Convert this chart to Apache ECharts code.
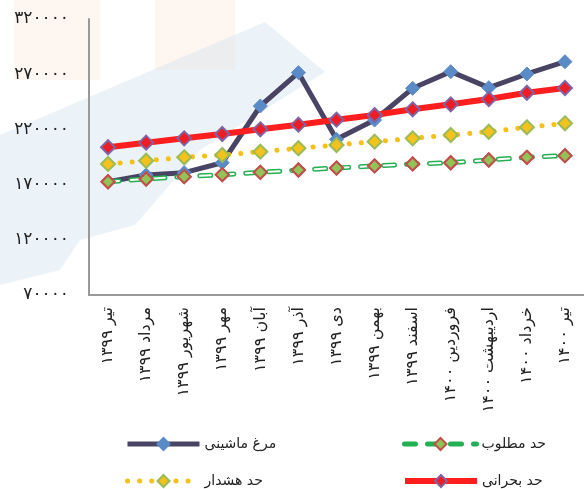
<!DOCTYPE html>
<html>
<head>
<meta charset="utf-8">
<script src="https://cdn.jsdelivr.net/npm/echarts@6/dist/echarts.min.js"></script>
<style>
	html, body { margin: 0; padding: 0; background: #fff; }
	#chart_1 { width: 584px; height: 489px; }
</style>
</head>
<body>
<div id="chart_1"></div>
<script>
var months = ['تیر ۱۳۹۹', 'مرداد ۱۳۹۹', 'شهریور ۱۳۹۹', 'مهر ۱۳۹۹', 'آبان ۱۳۹۹', 'آذر ۱۳۹۹', 'دی ۱۳۹۹',
	'بهمن ۱۳۹۹', 'اسفند ۱۳۹۹', 'فروردین ۱۴۰۰', 'اردیبهشت ۱۴۰۰', 'خرداد ۱۴۰۰', 'تیر ۱۴۰۰'];
// مرغ ماشینی
var chickenPrice = [172600, 178700, 180800, 189800, 241200, 271400, 211000, 228500, 257200, 272300, 257800, 270200, 281300];
// حد مطلوب
var targetLimit = [172600, 175100, 177200, 179000, 181100, 183200, 185000, 186900, 188700, 189800, 192300, 194700, 196200];
// حد هشدار
var warningLimit = [188700, 191600, 194700, 196800, 199800, 202900, 205900, 208900, 211900, 214900, 217900, 221900, 225500];
// حد بحرانی
var criticalLimit = [203800, 208000, 211900, 215800, 220100, 224300, 228800, 233000, 238200, 242700, 247500, 253200, 257500];
var yTicks = [70000, 120000, 170000, 220000, 270000, 320000];

function faDigits(s) {
	return String(s).replace(/\d/g, function(d) {
		return '۰۱۲۳۴۵۶۷۸۹'[d];
	});
}

var font = 'DejaVu Sans';
var myChart = echarts.init(document.getElementById('chart_1'));

function legendAt(name, left, top, lineStyle) {
	return {
		data: [name],
		left: left,
		top: top,
		itemWidth: 72,
		itemHeight: 15,
		lineStyle: lineStyle,
		itemStyle: { borderWidth: 2 },
		selectedMode: false,
		textStyle: { color: '#222', fontSize: 14, fontFamily: font }
	};
}

var option = {
	backgroundColor: '#fff',
	animation: false,
	// watermark behind the chart
	graphic: [{
		type: 'rect', z: -10, shape: { x: 14, y: 0, width: 86, height: 80 },
		style: { fill: 'rgba(250,225,210,0.3)' }
	}, {
		type: 'rect', z: -10, shape: { x: 155, y: 0, width: 80, height: 70 },
		style: { fill: 'rgba(250,225,210,0.3)' }
	}, {
		type: 'polygon', z: -10,
		shape: { points: [[0, 135], [265, 22], [325, 72], [200, 150], [135, 225], [80, 240], [60, 270], [0, 285]] },
		style: { fill: 'rgba(200,222,236,0.35)' }
	}],
	legend: [
		legendAt('مرغ ماشینی', 120, 432, { width: 5 }),
		legendAt('حد هشدار', 120, 469, { width: 5 }),
		legendAt('حد مطلوب', 397, 432, { width: 5 }),
		legendAt('حد بحرانی', 397, 469, { width: 6 })
	],
	grid: {
		left: 89,
		right: -4,
		top: 19,
		bottom: 194
	},
	xAxis: {
		type: 'category',
		data: months,
		axisLine: { lineStyle: { color: '#999', width: 2 } },
		axisTick: { show: false },
		axisLabel: {
			interval: 0,
			rotate: 90,
			margin: 12,
			color: '#222',
			fontSize: 16,
			fontFamily: font
		}
	},
	yAxis: {
		type: 'value',
		min: 70000,
		max: 320000,
		axisLine: { show: true, lineStyle: { color: '#999', width: 2 } },
		axisTick: { show: false },
		splitLine: { show: false },
		axisLabel: {
			customValues: yTicks,
			margin: 20,
			color: '#222',
			fontSize: 17,
			fontFamily: font,
			formatter: function(v) {
				return faDigits(v);
			}
		}
	},
	series: [{
		name: 'مرغ ماشینی',
		type: 'line',
		data: chickenPrice,
		symbol: 'diamond',
		symbolSize: 14,
		lineStyle: { color: '#4a4464', width: 5 },
		itemStyle: { color: '#5b8bc6', borderColor: '#5b8bc6', borderWidth: 1 }
	}, {
		name: 'حد مطلوب',
		type: 'line',
		data: targetLimit,
		symbol: 'diamond',
		symbolSize: 13,
		lineStyle: { color: '#22b052', width: 5, type: [11, 12], cap: 'round' },
		itemStyle: { color: '#92c356', borderColor: '#c0504d', borderWidth: 2 }
	}, {
		// hollow centre of the dashes
		name: 'target_inner',
		type: 'line',
		data: targetLimit,
		symbol: 'none',
		silent: true,
		lineStyle: { color: '#fff', width: 2, type: [11, 12], cap: 'round' }
	}, {
		// markers again on top of the hollow dashes
		name: 'target_marks',
		type: 'line',
		data: targetLimit,
		symbol: 'diamond',
		symbolSize: 13,
		silent: true,
		lineStyle: { opacity: 0 },
		itemStyle: { color: '#92c356', borderColor: '#c0504d', borderWidth: 2 }
	}, {
		name: 'حد هشدار',
		type: 'line',
		data: warningLimit,
		symbol: 'diamond',
		symbolSize: 14,
		lineStyle: { color: '#f5c01a', width: 5, type: [0.1, 12], cap: 'round' },
		itemStyle: { color: '#f3c21c', borderColor: '#9bbb59', borderWidth: 2 }
	}, {
		name: 'حد بحرانی',
		type: 'line',
		data: criticalLimit,
		symbol: 'diamond',
		symbolSize: 14,
		lineStyle: { color: '#ff1e1e', width: 6 },
		itemStyle: { color: '#ee1c25', borderColor: '#8064a2', borderWidth: 2 }
	}]
};

myChart.setOption(option);
window.addEventListener('resize', function() {
	myChart.resize();
});
</script>
</body>
</html>
